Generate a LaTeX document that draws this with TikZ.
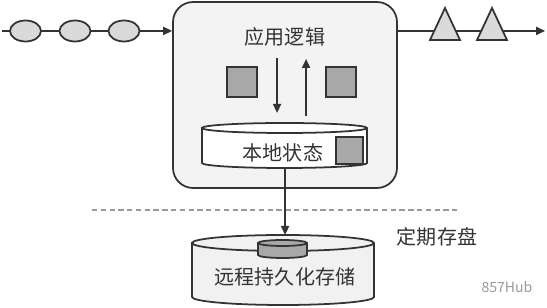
\documentclass[tikz,border=0pt]{standalone}
\usepackage{fontspec}
\setmainfont{Noto Sans CJK SC}
\usepackage{tikz}
\usetikzlibrary{arrows.meta,shapes.geometric}
\definecolor{ink}{HTML}{333333}
\definecolor{muted}{HTML}{9A9A9A}
\definecolor{boxbg}{HTML}{F3F3F3}
\definecolor{tokenbg}{HTML}{DADADA}
\definecolor{chipbg}{HTML}{A8A8A8}
\definecolor{diskbg}{HTML}{F1F1F1}
\tikzset{
  token/.style={ellipse,draw=ink,fill=tokenbg,line width=1pt,
                minimum width=0.62cm,minimum height=0.42cm,inner sep=0pt},
  chip/.style={rectangle,draw=ink,fill=chipbg,line width=1pt,
               minimum size=0.6cm,inner sep=0pt},
  opbox/.style={draw=ink,fill=boxbg,rounded corners=0.4cm,line width=1pt,
                minimum width=4.48cm,minimum height=3.72cm},
  flow/.style={-{Triangle[length=1.8mm,width=1.6mm]},line width=1pt,ink},
  cjktext/.style={font=\fontsize{11.4}{13}\selectfont,text=ink,inner sep=0pt},
  disk/.style={draw=ink,line width=1pt},
}

\begin{document}
\begin{tikzpicture}[scale=0.02]
  % pixel grid of the reference: 547 x 308, origin bottom left
  \useasboundingbox (0,0) rectangle (547,308);

  % Operator box
  \node[opbox] (app) at (285,213) {};
  \node[cjktext] (title) at (285,271) {应用逻辑};

  % Input stream and output stream
  \coordinate (src) at (2,277);
  \coordinate (sink) at (545,277);
  \draw[flow] (src) -- (src -| app.west);
  \draw[flow] (src -| app.east) -- (sink);
  \foreach \x/\n in {25.5/t1,75/t2,124/t3}{
    \node[token] (\n) at (\x,277) {};
  }
  \foreach \x in {445,492}{
    \filldraw[disk,fill=tokenbg,line join=miter] (\x-15,268) -- (\x,300) -- (\x+15,268) -- cycle;
  }

  % Records read / written
  \node[chip] (inL) at (242,226) {};
  \node[chip] (inR) at (341,226) {};
  \coordinate (rdtop) at (277,250);
  \coordinate (rdbot) at (277,195);
  \coordinate (wrbot) at (306,192);
  \coordinate (wrtop) at (306,249);
  \draw[flow] (rdtop) -- (rdbot);
  \draw[flow] (wrbot) -- (wrtop);

  % Local state cylinder
  \filldraw[disk,fill=white] (202,180) -- (202,145)
    arc[start angle=180,end angle=360,x radius=82.5,y radius=5] -- (367,180)
    arc[start angle=0,end angle=180,x radius=82.5,y radius=5] -- cycle;
  \draw[disk] (202,180) arc[start angle=180,end angle=360,x radius=82.5,y radius=5];
  \filldraw[disk,fill=chipbg] (336,144) rectangle (363,171);
  \node[cjktext] (state) at (283,155) {本地状态};

  % Checkpoint boundary
  \draw[muted,dashed,line width=0.8pt,dash pattern=on 3pt off 2pt] (92,98) -- (460,98);
  \node[cjktext] (ckpt) at (437,71) {定期存盘};

  % Remote durable storage
  \filldraw[disk,fill=diskbg] (192,65) -- (192,11)
    arc[start angle=180,end angle=360,x radius=91,y radius=8] -- (374,65)
    arc[start angle=0,end angle=180,x radius=91,y radius=8] -- cycle;
  \draw[disk] (192,65) arc[start angle=180,end angle=360,x radius=91,y radius=8];
  \filldraw[disk,fill=chipbg] (258,65) -- (258,53)
    arc[start angle=180,end angle=360,x radius=24.5,y radius=3] -- (307,65)
    arc[start angle=0,end angle=180,x radius=24.5,y radius=3] -- cycle;
  \draw[disk] (258,65) arc[start angle=180,end angle=360,x radius=24.5,y radius=3];
  \node[cjktext] (store) at (285,31) {远程持久化存储};

  % Snapshot to remote storage
  \coordinate (statebot) at (285,140);
  \coordinate (storetop) at (285,73);
  \draw[flow] (statebot) -- (storetop);

  \node[font=\fontsize{8}{9}\selectfont,text=muted,inner sep=0pt] (mark) at (507,21) {857Hub};
\end{tikzpicture}
\end{document}
